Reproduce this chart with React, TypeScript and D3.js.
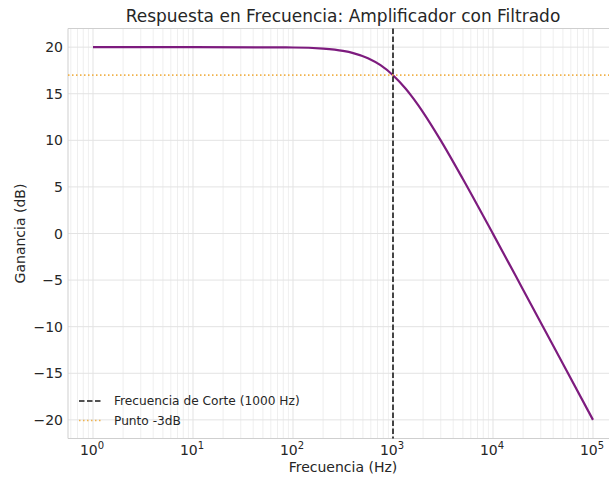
import React from "react";
import * as d3 from "d3";

const freqs = [1, 10, 100, 200, 316, 400, 562, 750, 1000, 1334, 1500, 1778, 2000, 3000, 5000, 10000, 20000, 31623, 50000, 100000];
const gains = [20.0, 20.0, 19.96, 19.83, 19.59, 19.36, 18.81, 18.06, 16.99, 15.56, 14.88, 13.81, 13.01, 10.0, 5.85, -0.04, -6.03, -10.0, -13.98, -20.0];
const yTicks = [-20, -15, -10, -5, 0, 5, 10, 15, 20];
const xTickExps = [0, 1, 2, 3, 4, 5];
const cutoffFreq = 1000;
const minus3dB = 17;
const legendLabels = ["Frecuencia de Corte (1000 Hz)", "Punto -3dB"];

const W = 609, H = 479;
const L = 68, R = 618, T = 28.5, B = 438.5;

export default function App() {
  const x = d3.scaleLog().domain([Math.pow(10, -0.25), Math.pow(10, 5.25)]).range([L, R]);
  const y = d3.scaleLinear().domain([-22, 22]).range([B, T]);
  const pts: [number, number][] = freqs.map((f, i) => [f, gains[i]]);
  const line = d3.line<[number, number]>().x(d => x(d[0])).y(d => y(d[1])).curve(d3.curveMonotoneX);
  const minors: number[] = [];
  for (let e = -1; e <= 5; e++) for (let m = 2; m <= 9; m++) {
    const v = m * Math.pow(10, e);
    if (x(v) >= L && x(v) <= W) minors.push(v);
  }
  const font = "DejaVu Sans, sans-serif";
  return (
    <svg width={W} height={H} style={{ position: "absolute", left: 0, top: 0, background: "#fff" }} fontFamily={font}>
      <rect x={0} y={0} width={W} height={H} fill="#fff" />
      {minors.map((v, i) => (
        <line key={"mn" + i} x1={x(v)} x2={x(v)} y1={T} y2={B} stroke="#ebebeb" strokeWidth={0.8} />
      ))}
      {xTickExps.map(e => (
        <line key={"mx" + e} x1={x(Math.pow(10, e))} x2={x(Math.pow(10, e))} y1={T} y2={B} stroke="#e3e3e3" strokeWidth={1} />
      ))}
      {yTicks.map(t => (
        <line key={"gy" + t} x1={L} x2={W} y1={y(t)} y2={y(t)} stroke="#e3e3e3" strokeWidth={1} />
      ))}
      <line x1={L} x2={L} y1={T} y2={B} stroke="#cfcfcf" strokeWidth={1} />
      <line x1={L} x2={W} y1={T} y2={T} stroke="#cfcfcf" strokeWidth={1} />
      <line x1={L} x2={W} y1={B} y2={B} stroke="#cfcfcf" strokeWidth={1} />
      <path d={line(pts) || ""} fill="none" stroke="#7d1b7e" strokeWidth={2.2} />
      <line x1={x(cutoffFreq)} x2={x(cutoffFreq)} y1={T} y2={B} stroke="#1a1a1a" strokeWidth={1.6} strokeDasharray="5.5,2.5" />
      <line x1={L} x2={W} y1={y(minus3dB)} y2={y(minus3dB)} stroke="#f0b24c" strokeWidth={1.6} strokeDasharray="1.5,2.5" />
      {yTicks.map(t => (
        <text key={"ty" + t} x={L - 5} y={y(t)} dy="0.36em" textAnchor="end" fontSize={14} fill="#262626">
          {t < 0 ? "\u2212" + Math.abs(t) : String(t)}
        </text>
      ))}
      {xTickExps.map(e => (
        <text key={"tx" + e} x={x(Math.pow(10, e)) - 1} y={B + 16} textAnchor="middle" fontSize={14} fill="#262626">
          10<tspan dy={-6} fontSize={10}>{e}</tspan>
        </text>
      ))}
      <text x={(L + R) / 2} y={22} textAnchor="middle" fontSize={17} fill="#262626">
        Respuesta en Frecuencia: Amplificador con Filtrado
      </text>
      <text x={(L + R) / 2} y={472} textAnchor="middle" fontSize={14} fill="#262626">Frecuencia (Hz)</text>
      <text transform={`translate(25,${(T + B) / 2}) rotate(-90)`} textAnchor="middle" fontSize={14} fill="#262626">Ganancia (dB)</text>
      <g>
        <line x1={79} x2={103} y1={401} y2={401} stroke="#1a1a1a" strokeWidth={1.6} strokeDasharray="5.5,2.5" />
        <text x={114} y={401} dy="0.35em" fontSize={12.2} fill="#262626">{legendLabels[0]}</text>
        <line x1={79} x2={103} y1={420.5} y2={420.5} stroke="#f0b24c" strokeWidth={1.6} strokeDasharray="1.5,2.5" />
        <text x={114} y={420.5} dy="0.35em" fontSize={12.2} fill="#262626">{legendLabels[1]}</text>
      </g>
    </svg>
  );
}
